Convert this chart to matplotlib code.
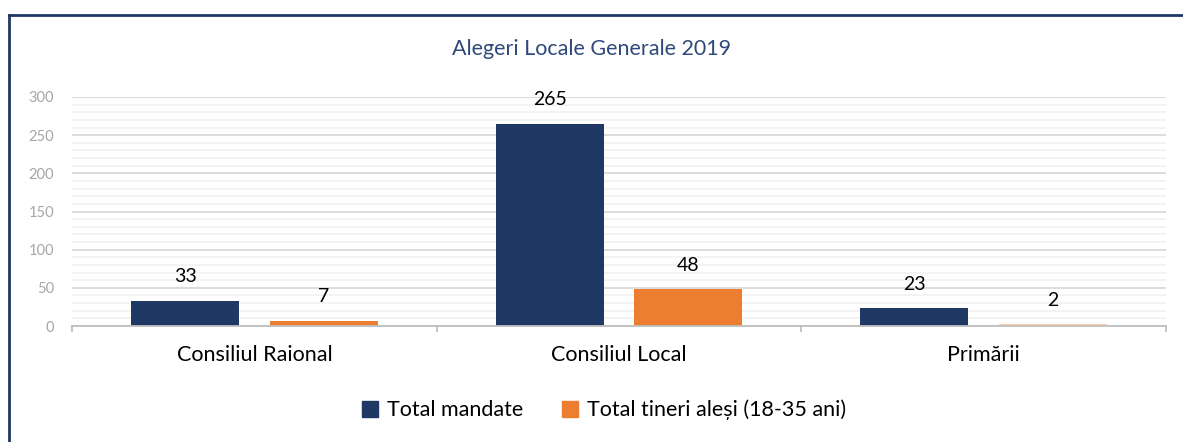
import matplotlib.pyplot as plt
import numpy as np
from matplotlib.lines import Line2D
from matplotlib.patches import Patch

categories = ['Consiliul Raional', 'Consiliul Local', 'Primării']
total_mandate = [33, 265, 23]
total_tineri = [7, 48, 2]
series_names = ['Total mandate', 'Total tineri aleși (18-35 ani)']
title = 'Alegeri Locale Generale 2019'

navy = '#203864'
orange = '#ED7D31'
pale_orange = '#F8CBAD'

plt.rcParams['font.family'] = ['Lato', 'DejaVu Sans']

fig = plt.figure(figsize=(11.83, 4.42), dpi=100)
ax = fig.add_axes([72 / 1183, 1 - 326 / 442, (1166 - 72) / 1183, (326 - 97) / 442])

x = np.arange(len(categories))
w = 0.296
off = 0.19
ax.bar(x - off, total_mandate, w, color=navy, zorder=3)
ax.bar(x + off, total_tineri, w, color=[orange, orange, pale_orange], zorder=3)

for xs, vals in [(x - off, total_mandate), (x + off, total_tineri)]:
    for xi, v in zip(xs, vals):
        ax.annotate(str(v), (xi, v), xytext=(0, 17.5), textcoords='offset points',
                    ha='center', va='center', fontsize=14, color='black')

ax.set_xlim(-0.5, len(categories) - 0.5)
ax.set_ylim(0, 300)
ax.set_yticks(np.arange(0, 301, 50))
ax.set_yticks(np.arange(0, 301, 10), minor=True)
ax.yaxis.grid(True, which='major', color='#D9D9D9', linewidth=1.3, zorder=0)
ax.yaxis.grid(True, which='minor', color='#F2F2F2', linewidth=1.3, zorder=0)
ax.tick_params(axis='y', which='both', length=0, labelsize=10.5, labelcolor='#A6A6A6', pad=13)

ax.set_xticks(x)
ax.set_xticklabels(categories, fontsize=15.5)
ax.tick_params(axis='x', length=0, pad=14)
for b in np.arange(-0.5, len(categories), 1.0):
    ax.add_line(Line2D([b, b], [0, -7], color='#BFBFBF', linewidth=1.3, clip_on=False))
for s in ['top', 'right', 'left']:
    ax.spines[s].set_visible(False)
ax.spines['bottom'].set_color('#BFBFBF')
ax.spines['bottom'].set_linewidth(1.3)
ax.spines['bottom'].set_zorder(4)

fig.text(0.5, 1 - 49 / 442, title, ha='center', va='center', fontsize=15.5, color='#2F4A7A')

handles = [Patch(color=navy), Patch(color=orange)]
fig.legend(handles, series_names, loc='center', bbox_to_anchor=(604 / 1183, 1 - 410 / 442), ncol=2,
           frameon=False, fontsize=15.5, handlelength=0.75, handleheight=0.75, handletextpad=0.4,
           columnspacing=1.8)

# outer chart frame (only top and left edges visible)
fig.add_artist(Line2D([9 / 1183, 1.0], [1 - 15 / 442, 1 - 15 / 442], transform=fig.transFigure,
                      color=navy, linewidth=2))
fig.add_artist(Line2D([9 / 1183, 9 / 1183], [0, 1 - 15 / 442], transform=fig.transFigure,
                      color=navy, linewidth=2))

fig.savefig('out.png', dpi=100)
